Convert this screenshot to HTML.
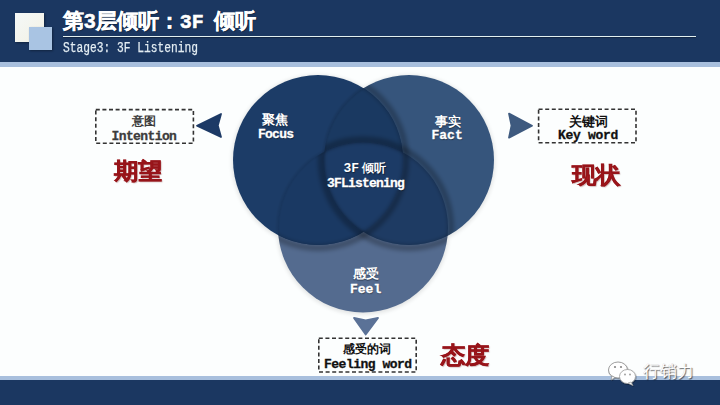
<!DOCTYPE html>
<html><head><meta charset="utf-8">
<style>
*{margin:0;padding:0;box-sizing:border-box}
html,body{width:720px;height:405px;overflow:hidden;background:#fcfefe}
body{position:relative;font-family:"Liberation Sans",sans-serif}
.abs{position:absolute}
.hdr{left:0;top:0;width:720px;height:62px;background:#1b3761}
.hdr2{left:0;top:62px;width:720px;height:5px;background:#a8bfdd}
.ftr2{left:0;top:376px;width:720px;height:4px;background:#a8bfdd}
.ftr{left:0;top:380px;width:720px;height:25px;background:#1b3761}
.sq1{left:15px;top:13px;width:29px;height:29px;background:linear-gradient(135deg,#f4f8f8,#f3f1e4);box-shadow:1px 1px 2px rgba(0,0,0,.35)}
.sq2{left:29px;top:27px;width:23px;height:23px;background:#a9c4e3;box-shadow:1px 1px 2px rgba(0,0,0,.35)}
.title{left:63px;top:7px;-webkit-text-stroke:0.5px #fff;text-shadow:1px 1px 1px rgba(0,0,0,.35);font-size:21px;font-weight:bold;color:#fff;white-space:nowrap;line-height:28px}
.rule{left:63px;top:36px;width:633px;height:1px;background:#e2f0f0;box-shadow:0 1px 1px rgba(0,0,0,.35)}
.mono{font-family:"Liberation Mono",monospace;white-space:nowrap}
.sub{left:63px;top:40px;font-size:14.5px;color:#e2ecf2;-webkit-text-stroke:0.25px #e2ecf2;line-height:16px;transform-origin:0 0;transform:scaleX(0.775)}
.box{border:1.5px dashed #333;background:transparent}
.t{white-space:nowrap;text-align:center;line-height:1}
.cw{color:#fff;font-weight:bold;text-shadow:0.5px 0.5px 1px rgba(0,0,0,.45)}
.b{font-weight:bold}
.gray{color:#3c3c3c;font-weight:bold}
.blk{color:#111;font-weight:bold}
.cw.mono{-webkit-text-stroke:0.3px #fff}
.blk.mono,.gray.mono{-webkit-text-stroke:0.3px currentColor}
.red{font-size:23px;transform:scaleX(1.06);transform-origin:0 0;font-weight:900;color:#a8171f;-webkit-text-stroke:0.5px #961419;text-shadow:1px 1px 1px rgba(90,0,0,.3)}
</style></head><body>
<div class="abs hdr"></div>
<div class="abs hdr2"></div>
<div class="abs sq1"></div>
<div class="abs sq2"></div>
<div class="abs title">第3层倾听：<span class="mono" style="font-size:20px;margin-right:4px">3F</span> 倾听</div>
<div class="abs rule"></div>
<div class="abs sub mono">Stage3: 3F Listening</div>

<svg class="abs" style="left:0;top:0" width="720" height="405" viewBox="0 0 720 405">
<defs>
<clipPath id="cL"><circle cx="318" cy="160" r="85"/></clipPath>
<clipPath id="cR"><circle cx="409" cy="160" r="85"/></clipPath>
<clipPath id="cB"><circle cx="363" cy="227.5" r="85"/></clipPath>
<clipPath id="cRB"><circle cx="409" cy="160" r="85"/><circle cx="363" cy="227.5" r="85"/></clipPath>
<filter id="bl" x="-20%" y="-20%" width="140%" height="140%"><feGaussianBlur stdDeviation="1.2"/></filter>
<filter id="bl2" x="-20%" y="-20%" width="140%" height="140%"><feGaussianBlur stdDeviation="2"/></filter>
</defs>
<g filter="url(#bl2)" fill="#000" opacity="0.11">
<circle cx="363" cy="228.5" r="86"/><circle cx="409" cy="161" r="86"/><circle cx="318" cy="161" r="86"/>
</g>
<circle cx="363" cy="227.5" r="85" fill="#546b8f"/>
<circle cx="409" cy="160" r="85" fill="#36557c"/>
<circle cx="318" cy="160" r="85" fill="#1c3c67"/>
<g clip-path="url(#cL)"><circle cx="409" cy="160" r="85" fill="#1a3961"/></g>
<g clip-path="url(#cL)"><circle cx="363" cy="227.5" r="85" fill="#1a3963"/></g>
<g clip-path="url(#cR)"><g clip-path="url(#cB)"><rect x="0" y="0" width="720" height="405" fill="#1e3b63"/></g></g>
<g clip-path="url(#cL)"><g clip-path="url(#cR)"><circle cx="363" cy="227.5" r="85" fill="#1c3b66"/></g></g>
<!-- shadows -->
<g clip-path="url(#cRB)"><circle cx="318" cy="160" r="88" fill="none" stroke="#000" stroke-opacity="0.28" stroke-width="6" filter="url(#bl2)"/></g>
<g clip-path="url(#cR)"><circle cx="363" cy="227.5" r="88" fill="none" stroke="#000" stroke-opacity="0.28" stroke-width="6" filter="url(#bl2)"/></g>
<g clip-path="url(#cB)"><circle cx="409" cy="160" r="88" fill="none" stroke="#000" stroke-opacity="0.28" stroke-width="6" filter="url(#bl2)"/></g>
<g clip-path="url(#cL)"><circle cx="409" cy="160" r="85.5" fill="none" stroke="#000" stroke-opacity="0.18" stroke-width="1.5" filter="url(#bl)"/></g>
<g clip-path="url(#cL)"><circle cx="363" cy="227.5" r="85.5" fill="none" stroke="#000" stroke-opacity="0.14" stroke-width="1.5" filter="url(#bl)"/></g>
<!-- arrows -->
<path d="M197,125.7 L221,114 L217.8,125.6 L221,137 Z" fill="#1d3a66" stroke="#1d3a66" stroke-width="1.8" stroke-linejoin="round"/>
<path d="M532,125.7 L509,113.6 L511.5,125.6 L509,137.6 Z" fill="#3e5a7f" stroke="#3e5a7f" stroke-width="1.8" stroke-linejoin="round"/>
<path d="M365.7,334.5 L354,318 L365.7,320.5 L378,318 Z" fill="#5b7297" stroke="#5b7297" stroke-width="1.8" stroke-linejoin="round"/>
</svg>

<svg class="abs" style="left:0;top:0" width="720" height="405">
<g fill="none" stroke="#333" stroke-width="1.6" stroke-dasharray="4 2.6">
<rect x="95.8" y="109.6" width="97.6" height="33.6"/>
<rect x="538.6" y="109.2" width="97.4" height="33.6"/>
<rect x="318.8" y="338.2" width="97.4" height="33.8"/>
</g></svg>

<div class="abs red t" style="left:114px;top:160px">期望</div>
<div class="abs red t" style="left:571.5px;top:164px">现状</div>
<div class="abs red t" style="left:441px;top:344px">态度</div>


<div class="abs t cw" style="left:261.5px;top:113px;font-size:13px">聚焦</div>
<div class="abs t cw mono b" style="left:258px;top:128px;font-size:13px;letter-spacing:-0.75px">Focus</div>
<div class="abs t cw" style="left:434.5px;top:115.5px;font-size:12.5px">事实</div>
<div class="abs t cw mono b" style="left:431.5px;top:129px;font-size:13px">Fact</div>
<div class="abs t cw" style="left:343.5px;top:162px;font-size:11.5px"><span class="mono" style="font-size:13px">3F</span> 倾听</div>
<div class="abs t cw mono b" style="left:327px;top:177px;font-size:13px;letter-spacing:-0.8px">3FListening</div>
<div class="abs t cw" style="left:352.5px;top:267px;font-size:13px">感受</div>
<div class="abs t cw mono b" style="left:350px;top:282.5px;font-size:13px">Feel</div>

<div class="abs t gray" style="left:132px;top:115px;font-size:12px">意图</div>
<div class="abs t gray mono b" style="left:111.5px;top:130px;font-size:13px;letter-spacing:-0.6px">Intention</div>
<div class="abs t blk" style="left:569px;top:116px;font-size:12.5px">关键词</div>
<div class="abs t blk mono b" style="left:558px;top:129px;font-size:13px;letter-spacing:-0.3px">Key word</div>
<div class="abs t blk" style="left:343px;top:343px;font-size:12px">感受的词</div>
<div class="abs t blk mono b" style="left:324px;top:357.5px;font-size:13px;letter-spacing:-0.5px">Feeling word</div>
<div class="abs ftr2"></div>
<div class="abs ftr"></div>
<svg class="abs" style="left:600px;top:352px" width="45" height="40" viewBox="0 0 45 40">
<g filter="url(#wsh)">
<ellipse cx="18" cy="18" rx="9.5" ry="8" fill="#fff" stroke="#888" stroke-width="0.8"/>
<path d="M12,24 L11,28 L15,25.5 Z" fill="#fff" stroke="#888" stroke-width="0.6"/>
<ellipse cx="27.5" cy="24.5" rx="8" ry="7" fill="#fff" stroke="#999" stroke-width="0.8"/>
<path d="M31,30 L33,33.5 L28,31.2 Z" fill="#fff" stroke="#999" stroke-width="0.6"/>
<circle cx="15" cy="15" r="1.1" fill="#888"/><circle cx="21" cy="15" r="1.1" fill="#888"/>
<circle cx="25" cy="22.5" r="0.9" fill="#999"/><circle cx="30" cy="22.5" r="0.9" fill="#999"/>
</g>
<defs><filter id="wsh"><feDropShadow dx="0.5" dy="0.8" stdDeviation="0.6" flood-color="#000" flood-opacity="0.45"/></filter></defs>
</svg>
<div class="abs t" style="left:643px;top:363px;font-size:17px;color:#fff;text-shadow:1px 1px 1px rgba(0,0,0,.6),-0.5px -0.5px 0.5px rgba(0,0,0,.3)">行销力</div>
</body></html>
